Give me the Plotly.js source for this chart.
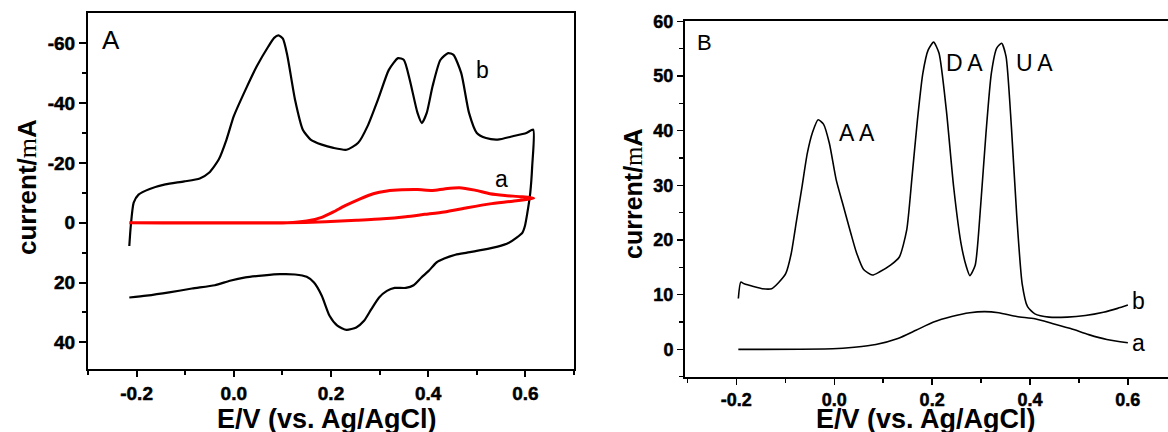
<!DOCTYPE html>
<html>
<head>
<meta charset="utf-8">
<script src="https://cdn.plot.ly/plotly-3.0.1.min.js"></script>
<style>
html,body{margin:0;padding:0;background:#fff;}
#chart{width:1168px;height:432px;}
#chart .xtick text, #chart .ytick text, #chart .x2tick text, #chart .y2tick text {font-weight:700 !important; stroke:#000; stroke-width:0.5px;}
</style>
</head>
<body>
<div id="chart"></div>
<script>
// Panel A, curve b (CV loop, black): forward scan then reverse scan
const aBx = [-0.215,-0.212,-0.206,-0.196,-0.173,-0.141,-0.102,-0.070,-0.051,-0.031,-0.015,0.000,0.024,0.047,0.071,0.083,0.092,0.101,0.110,0.126,0.142,0.158,0.181,0.205,0.232,0.256,0.275,0.299,0.319,0.338,0.350,0.362,0.378,0.387,0.397,0.409,0.425,0.441,0.452,0.468,0.484,0.500,0.519,0.543,0.574,0.602,0.616,
  0.614,0.610,0.604,0.599,0.594,0.582,0.566,0.543,0.511,0.480,0.456,0.433,0.417,0.401,0.386,0.370,0.354,0.331,0.315,0.299,0.283,0.268,0.252,0.232,0.213,0.197,0.181,0.165,0.150,0.126,0.095,0.063,0.024,-0.008,-0.039,-0.086,-0.133,-0.180,-0.215];
const aBy = [7.8,1.1,-6.7,-9.4,-11.3,-12.8,-13.8,-14.8,-16.7,-21.1,-27.8,-35.6,-44.4,-52.2,-58.9,-61.8,-62.6,-61.5,-56.0,-41.1,-31.1,-27.8,-26.1,-25.0,-24.4,-26.7,-32.2,-42.2,-51.1,-55.0,-54.4,-47.8,-36.7,-33.3,-36.7,-45.6,-54.4,-56.7,-56.1,-50.0,-36.7,-30.0,-28.3,-27.8,-28.9,-30.0,-31.1,
  -18.9,-10.0,-3.3,1.1,3.3,5.0,6.7,8.0,9.1,10.0,10.7,12.0,13.3,16.1,18.3,20.9,21.8,21.8,22.8,25.0,28.9,32.8,35.0,35.8,34.4,31.1,24.4,20.0,18.1,17.3,17.2,17.6,18.3,19.4,20.9,22.0,23.3,24.4,25.0];
// Panel A, curve a (red)
const aAx = [-0.215,0.110,0.150,0.181,0.205,0.228,0.260,0.287,0.315,0.346,0.378,0.409,0.433,0.464,0.496,0.527,0.558,0.590,0.617,
  0.574,0.527,0.480,0.433,0.393,0.354,0.307,0.252,0.189,0.110,-0.215];
const aAy = [0,0,-0.6,-1.8,-3.6,-5.6,-8.0,-9.7,-10.6,-11.0,-11.1,-10.8,-11.3,-11.7,-10.9,-9.7,-9.1,-8.7,-8.2,
  -7.2,-6.3,-5.0,-3.6,-2.8,-2.0,-1.3,-0.8,-0.3,0,0];
// Panel B, curve b
const bBx = [-0.196,-0.191,-0.184,-0.165,-0.147,-0.128,-0.114,-0.099,-0.088,-0.077,-0.066,-0.055,-0.044,-0.033,-0.022,-0.010,0.004,0.019,0.034,0.045,0.060,0.078,0.093,0.115,0.133,0.148,0.159,0.170,0.181,0.192,0.203,0.214,0.229,0.244,0.259,0.270,0.277,0.288,0.299,0.310,0.321,0.332,0.342,0.351,0.362,0.373,0.384,0.395,0.410,0.439,0.476,0.513,0.550,0.579,0.600];
const bBy = [9.3,12.3,12.0,11.5,11.1,11.1,12.2,13.9,17.5,23.6,29.7,35.9,39.8,42.0,41.2,37.7,31.0,26.1,21.2,17.8,14.6,13.6,14.2,15.4,16.9,21.8,31.6,42.0,50.5,54.8,56.2,54.2,43.8,29.7,19.4,15.1,13.5,15.4,26.1,39.5,50.5,55.1,56.0,53.6,40.7,24.3,12.0,7.8,6.5,5.9,5.9,6.2,6.8,7.5,8.1];
// Panel B, curve a
const bAx = [-0.196,-0.003,0.041,0.085,0.130,0.167,0.203,0.240,0.277,0.307,0.336,0.373,0.410,0.447,0.483,0.520,0.557,0.600];
const bAy = [0,0.1,0.4,0.9,2.0,3.5,5.0,6.0,6.7,6.9,6.7,6.0,5.6,4.7,3.8,2.7,1.8,1.2];

const xTickVals = [-0.2,0.0,0.2,0.4,0.6];
const xTickText = ['-0.2','0.0','0.2','0.4','0.6'];
const aYTickVals = [-60,-40,-20,0,20,40];
const aYTickText = ['-60','-40','-20','0','20','40'];
const bYTickVals = [0,10,20,30,40,50,60];
const bYTickText = ['0','10','20','30','40','50','60'];

const W = 1168, H = 432;
const px = v => v / W, py = v => 1 - v / H;
const bold = arr => arr.map(s => '<b>' + s + '</b>');

const traces = [
  {x: aBx, y: aBy, xaxis: 'x', yaxis: 'y', mode: 'lines', line: {color: '#000', width: 2.2, shape: 'spline', smoothing: 0.6}, hoverinfo: 'skip'},
  {x: aAx, y: aAy, xaxis: 'x', yaxis: 'y', mode: 'lines', line: {color: '#ff0000', width: 3, shape: 'spline', smoothing: 0.6}, hoverinfo: 'skip'},
  {x: bBx, y: bBy, xaxis: 'x2', yaxis: 'y2', mode: 'lines', line: {color: '#000', width: 1.6, shape: 'spline', smoothing: 0.6}, hoverinfo: 'skip'},
  {x: bAx, y: bAy, xaxis: 'x2', yaxis: 'y2', mode: 'lines', line: {color: '#000', width: 1.6, shape: 'spline', smoothing: 0.6}, hoverinfo: 'skip'}
];

const tfA = {family: 'Liberation Sans', size: 19, color: '#000', weight: 'bold'};
const tfBy = {family: 'Liberation Sans', size: 18, color: '#000', weight: 'bold'};
const tfBx = {family: 'Liberation Sans', size: 18, color: '#000', weight: 'bold'};

const axCommon = {showgrid: false, zeroline: false, showline: true, linecolor: '#000', ticks: 'outside', tickcolor: '#000', fixedrange: true};

const layout = {
  width: W, height: H,
  margin: {l: 0, r: 0, t: 0, b: 0},
  paper_bgcolor: '#fff', plot_bgcolor: '#fff',
  showlegend: false,
  xaxis: Object.assign({}, axCommon, {domain: [px(88), px(574)], range: [-0.3, 0.7], anchor: 'y', mirror: true, linewidth: 2,
    tickvals: xTickVals, ticktext: bold(xTickText), ticklen: 6, tickwidth: 2, tickfont: tfA,
    minor: {tickvals: [-0.3,-0.1,0.1,0.3,0.5,0.7], ticks: 'outside', ticklen: 4, tickwidth: 2, tickcolor: '#000'}}),
  yaxis: Object.assign({}, axCommon, {domain: [py(369.3), py(13.3)], range: [49, -70], anchor: 'x', mirror: true, linewidth: 2,
    tickvals: aYTickVals, ticktext: bold(aYTickText), ticklen: 7, tickwidth: 2, tickfont: tfA,
    minor: {tickvals: [-50,-30,-10,10,30], ticks: 'outside', ticklen: 4, tickwidth: 2, tickcolor: '#000'}}),
  xaxis2: Object.assign({}, axCommon, {domain: [px(685), 1], range: [-0.305, 0.682], anchor: 'y2', mirror: true, linewidth: 2,
    tickvals: xTickVals, ticktext: bold(xTickText), ticklen: 6, tickwidth: 1.5, tickfont: tfBx,
    minor: {tickvals: [-0.3,-0.1,0.1,0.3,0.5], ticks: 'outside', ticklen: 4, tickwidth: 1.5, tickcolor: '#000'}}),
  yaxis2: Object.assign({}, axCommon, {domain: [py(376.7), py(21.4)], range: [-5, 60], anchor: 'x2', mirror: false, linewidth: 2,
    tickvals: bYTickVals, ticktext: bold(bYTickText), ticklen: 6, tickwidth: 1.5, tickfont: tfBy,
    minor: {tickvals: [-5,5,15,25,35,45,55], ticks: 'outside', ticklen: 4, tickwidth: 1.5, tickcolor: '#000'}}),
  annotations: [
    // axis titles
    {xref: 'paper', yref: 'paper', x: px(27), y: py(187), text: '<b>current/</b><span style="font-family:\'Liberation Serif\'">m</span><b>A</b>', textangle: -90, showarrow: false, xanchor: 'center', yanchor: 'middle', font: {family: 'Liberation Sans', size: 26, color: '#000'}},
    {xref: 'paper', yref: 'paper', x: px(633), y: py(194), text: '<b>current/</b><span style="font-family:\'Liberation Serif\'">m</span><b>A</b>', textangle: -90, showarrow: false, xanchor: 'center', yanchor: 'middle', font: {family: 'Liberation Sans', size: 25, color: '#000'}},
    {xref: 'paper', yref: 'paper', x: px(327), y: py(419), text: '<b>E/V (vs. Ag/AgCl)</b>', showarrow: false, xanchor: 'center', yanchor: 'middle', font: {family: 'Liberation Sans', size: 27, color: '#000'}},
    {xref: 'paper', yref: 'paper', x: px(926), y: py(419), text: '<b>E/V (vs. Ag/AgCl)</b>', showarrow: false, xanchor: 'center', yanchor: 'middle', font: {family: 'Liberation Sans', size: 27, color: '#000'}},
    // panel letters
    {xref: 'paper', yref: 'paper', x: px(111), y: py(40), text: 'A', showarrow: false, xanchor: 'center', yanchor: 'middle', font: {family: 'Liberation Sans', size: 26, color: '#000'}},
    {xref: 'paper', yref: 'paper', x: px(704), y: py(43), text: 'B', showarrow: false, xanchor: 'center', yanchor: 'middle', font: {family: 'Liberation Sans', size: 22, color: '#000'}},
    // curve labels A
    {xref: 'paper', yref: 'paper', x: px(482), y: py(70), text: 'b', showarrow: false, xanchor: 'center', yanchor: 'middle', font: {family: 'Liberation Sans', size: 23, color: '#000'}},
    {xref: 'paper', yref: 'paper', x: px(501), y: py(179), text: 'a', showarrow: false, xanchor: 'center', yanchor: 'middle', font: {family: 'Liberation Sans', size: 23, color: '#000'}},
    // curve labels B
    {xref: 'paper', yref: 'paper', x: px(857), y: py(133), text: 'A\u2009A', showarrow: false, xanchor: 'center', yanchor: 'middle', font: {family: 'Liberation Sans', size: 23, color: '#000'}},
    {xref: 'paper', yref: 'paper', x: px(964), y: py(63), text: 'D\u2009A', showarrow: false, xanchor: 'center', yanchor: 'middle', font: {family: 'Liberation Sans', size: 23, color: '#000'}},
    {xref: 'paper', yref: 'paper', x: px(1034), y: py(63), text: 'U\u2009A', showarrow: false, xanchor: 'center', yanchor: 'middle', font: {family: 'Liberation Sans', size: 23, color: '#000'}},
    {xref: 'paper', yref: 'paper', x: px(1138), y: py(301), text: 'b', showarrow: false, xanchor: 'center', yanchor: 'middle', font: {family: 'Liberation Sans', size: 23, color: '#000'}},
    {xref: 'paper', yref: 'paper', x: px(1138), y: py(343), text: 'a', showarrow: false, xanchor: 'center', yanchor: 'middle', font: {family: 'Liberation Sans', size: 23, color: '#000'}}
  ]
};

Plotly.newPlot('chart', traces, layout, {staticPlot: true, displayModeBar: false});
</script>
</body>
</html>
